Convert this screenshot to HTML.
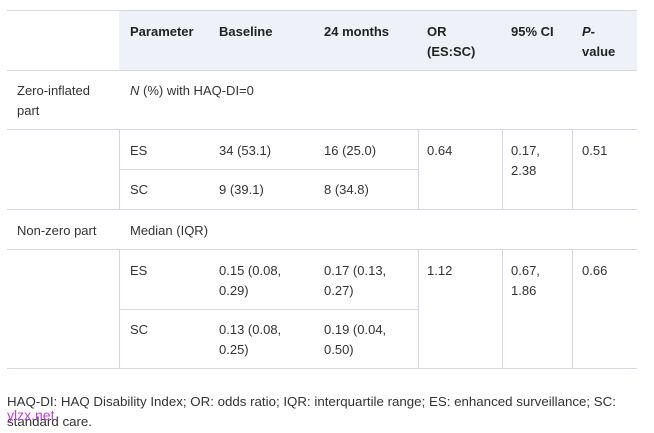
<!DOCTYPE html>
<html><head><meta charset="utf-8"><style>
body{margin:0;width:654px;height:433px;background:#fff;position:relative;font-family:"Liberation Sans",sans-serif;font-size:13px;color:#333;overflow:hidden}
.t{position:absolute;line-height:20px;white-space:nowrap}
.b{font-weight:bold;color:#222}
.h{position:absolute;height:1px;background:#d3d8e4}
.v{position:absolute;width:1px;background:#d3d8e4}
</style></head><body>
<div style="position:absolute;left:119px;top:10px;width:518px;height:60px;background:#eef2f8"></div>
<div class="h" style="left:7px;top:10px;width:630px"></div>
<div class="h" style="left:7px;top:70px;width:630px"></div>
<div class="h" style="left:7px;top:129px;width:630px"></div>
<div class="h" style="left:119px;top:169px;width:299px"></div>
<div class="h" style="left:7px;top:209px;width:630px"></div>
<div class="h" style="left:7px;top:249px;width:630px"></div>
<div class="h" style="left:119px;top:309px;width:299px"></div>
<div class="h" style="left:7px;top:368px;width:630px"></div>
<div class="v" style="left:119px;top:129px;height:80px"></div>
<div class="v" style="left:418px;top:129px;height:80px"></div>
<div class="v" style="left:502px;top:129px;height:80px"></div>
<div class="v" style="left:572px;top:129px;height:80px"></div>
<div class="v" style="left:119px;top:249px;height:119px"></div>
<div class="v" style="left:418px;top:249px;height:119px"></div>
<div class="v" style="left:502px;top:249px;height:119px"></div>
<div class="v" style="left:572px;top:249px;height:119px"></div>

<div class="t b" style="left:130px;top:22px">Parameter</div>
<div class="t b" style="left:219px;top:22px">Baseline</div>
<div class="t b" style="left:324px;top:22px">24 months</div>
<div class="t b" style="left:427px;top:22px">OR<br>(ES:SC)</div>
<div class="t b" style="left:511px;top:22px">95% CI</div>
<div class="t b" style="left:582px;top:22px"><i>P</i>-<br>value</div>

<div class="t" style="left:17px;top:81px">Zero-inflated<br>part</div>
<div class="t" style="left:130px;top:81px"><i>N</i> (%) with HAQ-DI=0</div>

<div class="t" style="left:130px;top:141px">ES</div>
<div class="t" style="left:219px;top:141px">34 (53.1)</div>
<div class="t" style="left:324px;top:141px">16 (25.0)</div>
<div class="t" style="left:427px;top:141px">0.64</div>
<div class="t" style="left:511px;top:141px">0.17,<br>2.38</div>
<div class="t" style="left:582px;top:141px">0.51</div>
<div class="t" style="left:130px;top:180px">SC</div>
<div class="t" style="left:219px;top:180px">9 (39.1)</div>
<div class="t" style="left:324px;top:180px">8 (34.8)</div>

<div class="t" style="left:17px;top:221px">Non-zero part</div>
<div class="t" style="left:130px;top:221px">Median (IQR)</div>

<div class="t" style="left:130px;top:261px">ES</div>
<div class="t" style="left:219px;top:261px">0.15 (0.08,<br>0.29)</div>
<div class="t" style="left:324px;top:261px">0.17 (0.13,<br>0.27)</div>
<div class="t" style="left:427px;top:261px">1.12</div>
<div class="t" style="left:511px;top:261px">0.67,<br>1.86</div>
<div class="t" style="left:582px;top:261px">0.66</div>
<div class="t" style="left:130px;top:320px">SC</div>
<div class="t" style="left:219px;top:320px">0.13 (0.08,<br>0.25)</div>
<div class="t" style="left:324px;top:320px">0.19 (0.04,<br>0.50)</div>

<div class="t" style="left:7px;top:392px;font-size:13.3px">HAQ-DI: HAQ Disability Index; OR: odds ratio; IQR: interquartile range; ES: enhanced surveillance; SC:<br>standard care.</div>
<div class="t" style="left:7px;top:405px;color:#c040e0;font-size:14px">ylzx.net</div>
</body></html>
